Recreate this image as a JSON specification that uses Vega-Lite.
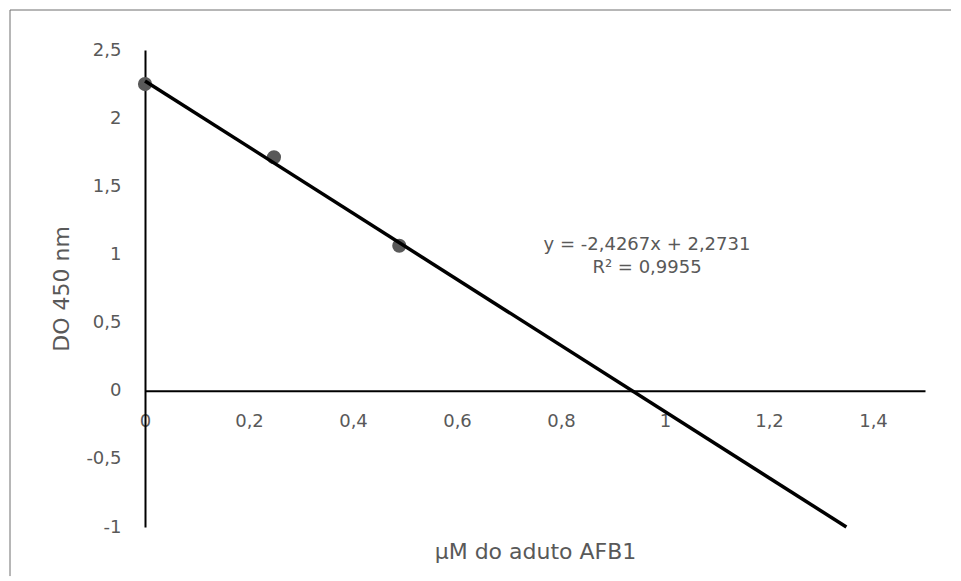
{
  "$schema": "https://vega.github.io/schema/vega-lite/v6.json",
  "width": 780,
  "height": 477,
  "autosize": "none",
  "padding": {"left": 145, "top": 50, "right": 36, "bottom": 54},
  "background": "white",
  "config": {
    "view": {"stroke": null},
    "font": "DejaVu Sans",
    "axis": {"grid": false}
  },
  "datasets": {
    "frame": [{"name": "chart area"}],
    "pts": [
      {"conc": 0, "od": 2.25},
      {"conc": 0.248, "od": 1.713},
      {"conc": 0.489, "od": 1.064}
    ],
    "trend": [
      {"conc": 0, "od": 2.2731},
      {"conc": 1.3488, "od": -1}
    ],
    "eq": [
      {"label": "y = -2,4267x + 2,2731", "conc": 0.9654, "od": 1.069},
      {"label": "R² = 0,9955", "conc": 0.9654, "od": 0.904}
    ]
  },
  "layer": [
    {
      "data": {"name": "frame"},
      "mark": {"type": "rule", "stroke": "#6e6e6e", "strokeWidth": 1, "clip": false},
      "encoding": {
        "x": {"datum": -0.2596, "type": "quantitative", "scale": {"domain": [0, 1.5], "nice": false, "zero": false}},
        "y": {"datum": 2.7935, "type": "quantitative", "scale": {"domain": [-1, 2.5], "nice": false, "zero": false}},
        "y2": {"datum": -1.36}
      }
    },
    {
      "data": {"name": "frame"},
      "mark": {"type": "rule", "stroke": "#6e6e6e", "strokeWidth": 1, "clip": false},
      "encoding": {
        "x": {"datum": -0.2596, "type": "quantitative"},
        "x2": {"datum": 1.55},
        "y": {"datum": 2.7935, "type": "quantitative"}
      }
    },
    {
      "data": {"name": "pts"},
      "mark": {"type": "point", "filled": true, "shape": "circle", "size": 200, "color": "#595959", "opacity": 1},
      "encoding": {
        "x": {
          "field": "conc", "type": "quantitative",
          "scale": {"domain": [0, 1.5], "nice": false, "zero": false},
          "axis": {
            "title": "µM do aduto AFB1",
            "values": [0, 0.2, 0.4, 0.6, 0.8, 1, 1.2, 1.4],
            "labelExpr": "replace(toString(datum.value), '.', ',')",
            "offset": -136.3,
            "domainColor": "#000000",
            "domainWidth": 2,
            "ticks": false,
            "tickSize": 0,
            "labelPadding": 31,
            "labelBaseline": "middle",
            "labelAlign": "center",
            "labelFlush": false,
            "labelOverlap": false,
            "labelFontSize": 18,
            "labelColor": "#595959",
            "titleFontSize": 22,
            "titleFontWeight": "normal",
            "titleColor": "#595959",
            "titleY": 160.3,
            "titleBaseline": "middle"
          }
        },
        "y": {
          "field": "od", "type": "quantitative",
          "scale": {"domain": [-1, 2.5], "nice": false, "zero": false},
          "axis": {
            "title": "DO 450 nm",
            "values": [-1, -0.5, 0, 0.5, 1, 1.5, 2, 2.5],
            "labelExpr": "replace(toString(datum.value), '.', ',')",
            "domainColor": "#000000",
            "domainWidth": 2,
            "ticks": false,
            "tickSize": 0,
            "labelPadding": 24,
            "labelBaseline": "middle",
            "labelFlush": false,
            "labelOverlap": false,
            "labelFontSize": 18,
            "labelColor": "#595959",
            "titleFontSize": 22,
            "titleFontWeight": "normal",
            "titleColor": "#595959",
            "titleX": -84,
            "titleY": 238.5,
            "titleAngle": -90,
            "titleAlign": "center",
            "titleBaseline": "middle"
          }
        }
      }
    },
    {
      "data": {"name": "trend"},
      "mark": {"type": "line", "color": "#000000", "strokeWidth": 3.5},
      "encoding": {
        "x": {"field": "conc", "type": "quantitative"},
        "y": {"field": "od", "type": "quantitative"}
      }
    },
    {
      "data": {"name": "eq"},
      "mark": {"type": "text", "fontSize": 18, "color": "#595959", "align": "center", "baseline": "middle"},
      "encoding": {
        "x": {"field": "conc", "type": "quantitative"},
        "y": {"field": "od", "type": "quantitative"},
        "text": {"field": "label"}
      }
    }
  ]
}
